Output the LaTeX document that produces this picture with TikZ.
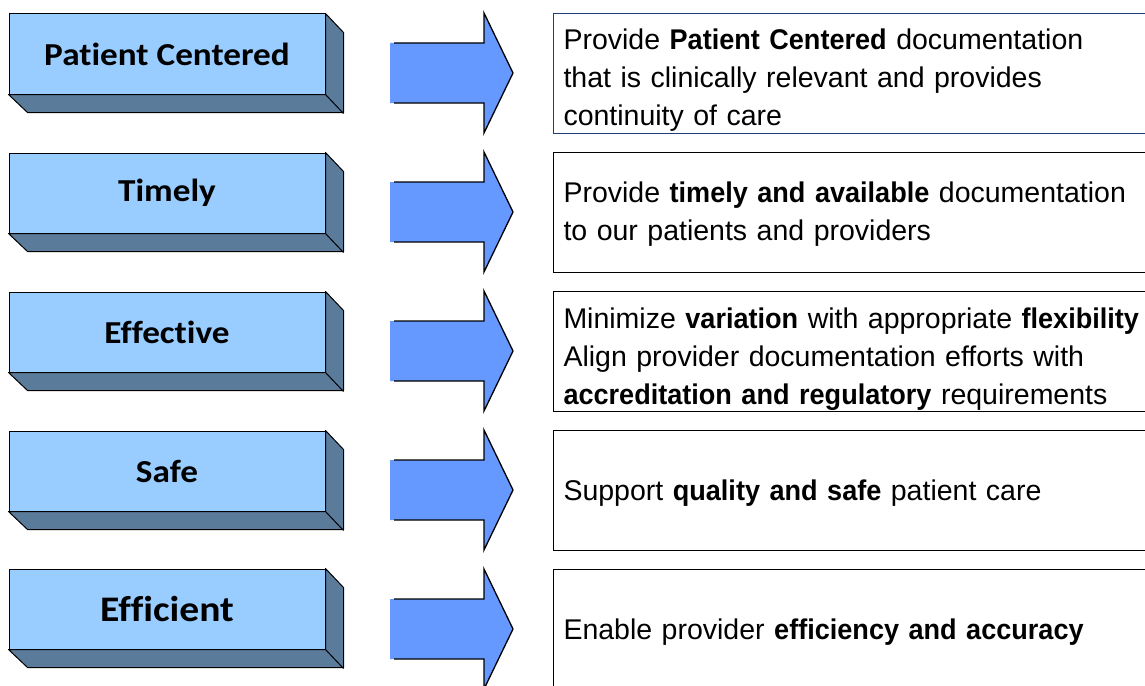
\documentclass[tikz,border=0pt]{standalone}
\usepackage{fontspec}
\setmainfont[Ligatures=NoCommon, FakeStretch=1.1]{Carlito}
\newfontfamily\descfont[BoldFeatures={FakeStretch=0.95}]{Liberation Sans}
\definecolor{facefront}{HTML}{99CCFF}
\definecolor{faceside}{HTML}{5B7B9B}
\definecolor{arrowfill}{HTML}{6699FF}
\definecolor{frameblue}{HTML}{1F3D7A}
\tikzset{
  frontface/.style={draw=black, line width=1pt, fill=facefront,
    minimum width=316pt, minimum height=80pt, inner sep=0pt,
    font=\bfseries\fontsize{32}{36}\selectfont},
  sideface/.style={fill=faceside, draw=black, line width=1pt, line join=round},
  descbox/.style={draw=black, line width=1pt, anchor=north west,
    minimum width=620pt, minimum height=120pt, inner xsep=10pt, inner ysep=0pt,
    text width=600pt, align=left,
    font=\descfont\fontsize{28.5}{38}\selectfont},
  bigarrow/.style={fill=arrowfill},
  arrowedge/.style={draw=black, line width=1.3pt, line join=miter},
}
% draw a raised label block: front face node plus its extruded right and bottom faces
\newcommand\labelblock[3]{%
  \node[frontface] (#1) at (167,#2) {#3};
  \filldraw[sideface] (#1.north east) -- ++(18,19) -- ++(0,80) -- ++(-316,0)
     -- (#1.south west) -- (#1.south east) -- cycle;
  \draw[black, line width=1pt] (#1.south east) -- ++(18,19);
}
% block arrow with its point at the given row centre
\newcommand\blockarrow[2]{%
  \coordinate (#1) at (390,#2);
  \fill[bigarrow] (#1) ++(0,-30) -- ++(94,0) -- ++(0,-30) -- ++(29,60)
     -- ++(-29,60) -- ++(0,-30) -- ++(-94,0) -- cycle;
  \draw[arrowedge] (#1) ++(4,-30) -- ++(90,0) -- ++(0,-30) -- ++(29,60)
     -- ++(-29,60) -- ++(0,-30) -- ++(-90,0);
}
\begin{document}
\begin{tikzpicture}[x=1pt, y=-1pt]
\useasboundingbox (0,0) rectangle (1145,685);
\clip (0,0) rectangle (1145,685);

\labelblock{b1}{54}{Patient Centered}
\labelblock{b2}{193}{Timely}
\labelblock{b3}{332}{Effective}
\labelblock{b4}{471}{Safe}
\labelblock{b5}{609}{\fontsize{36}{40}\selectfont Efficient}

\blockarrow{a1}{73}
\blockarrow{a2}{212}
\blockarrow{a3}{351}
\blockarrow{a4}{490}
\blockarrow{a5}{629}

% frames first, then the text lines inside them
\node[descbox, draw=frameblue] (d1) at (553,13) {};
\node[descbox] (d2) at (553,152) {};
\node[descbox] (d3) at (553,291) {};
\node[descbox] (d4) at (553,430) {};
\node[descbox] (d5) at (553,569) {};

\node[descbox, draw=none, anchor=center, yshift=-7pt] (t1) at (d1.center)
  {Provide \textbf{Patient Centered} documentation\\that is clinically relevant and provides\\continuity of care};
\node[descbox, draw=none, anchor=center, yshift=-2pt] (t2) at (d2.center)
  {Provide \textbf{timely and available} documentation\\to our patients and providers};
\node[descbox, draw=none, anchor=center, yshift=-8pt] (t3) at (d3.center)
  {Minimize \textbf{variation} with appropriate \textbf{flexibility}\\Align provider documentation efforts with\\\textbf{accreditation and regulatory} requirements};
\node[descbox, draw=none, anchor=center, yshift=-3pt] (t4) at (d4.center)
  {Support \textbf{quality and safe} patient care};
\node[descbox, draw=none, anchor=center, yshift=-3pt] (t5) at (d5.center)
  {Enable provider \textbf{efficiency and accuracy}};
\end{tikzpicture}
\end{document}
